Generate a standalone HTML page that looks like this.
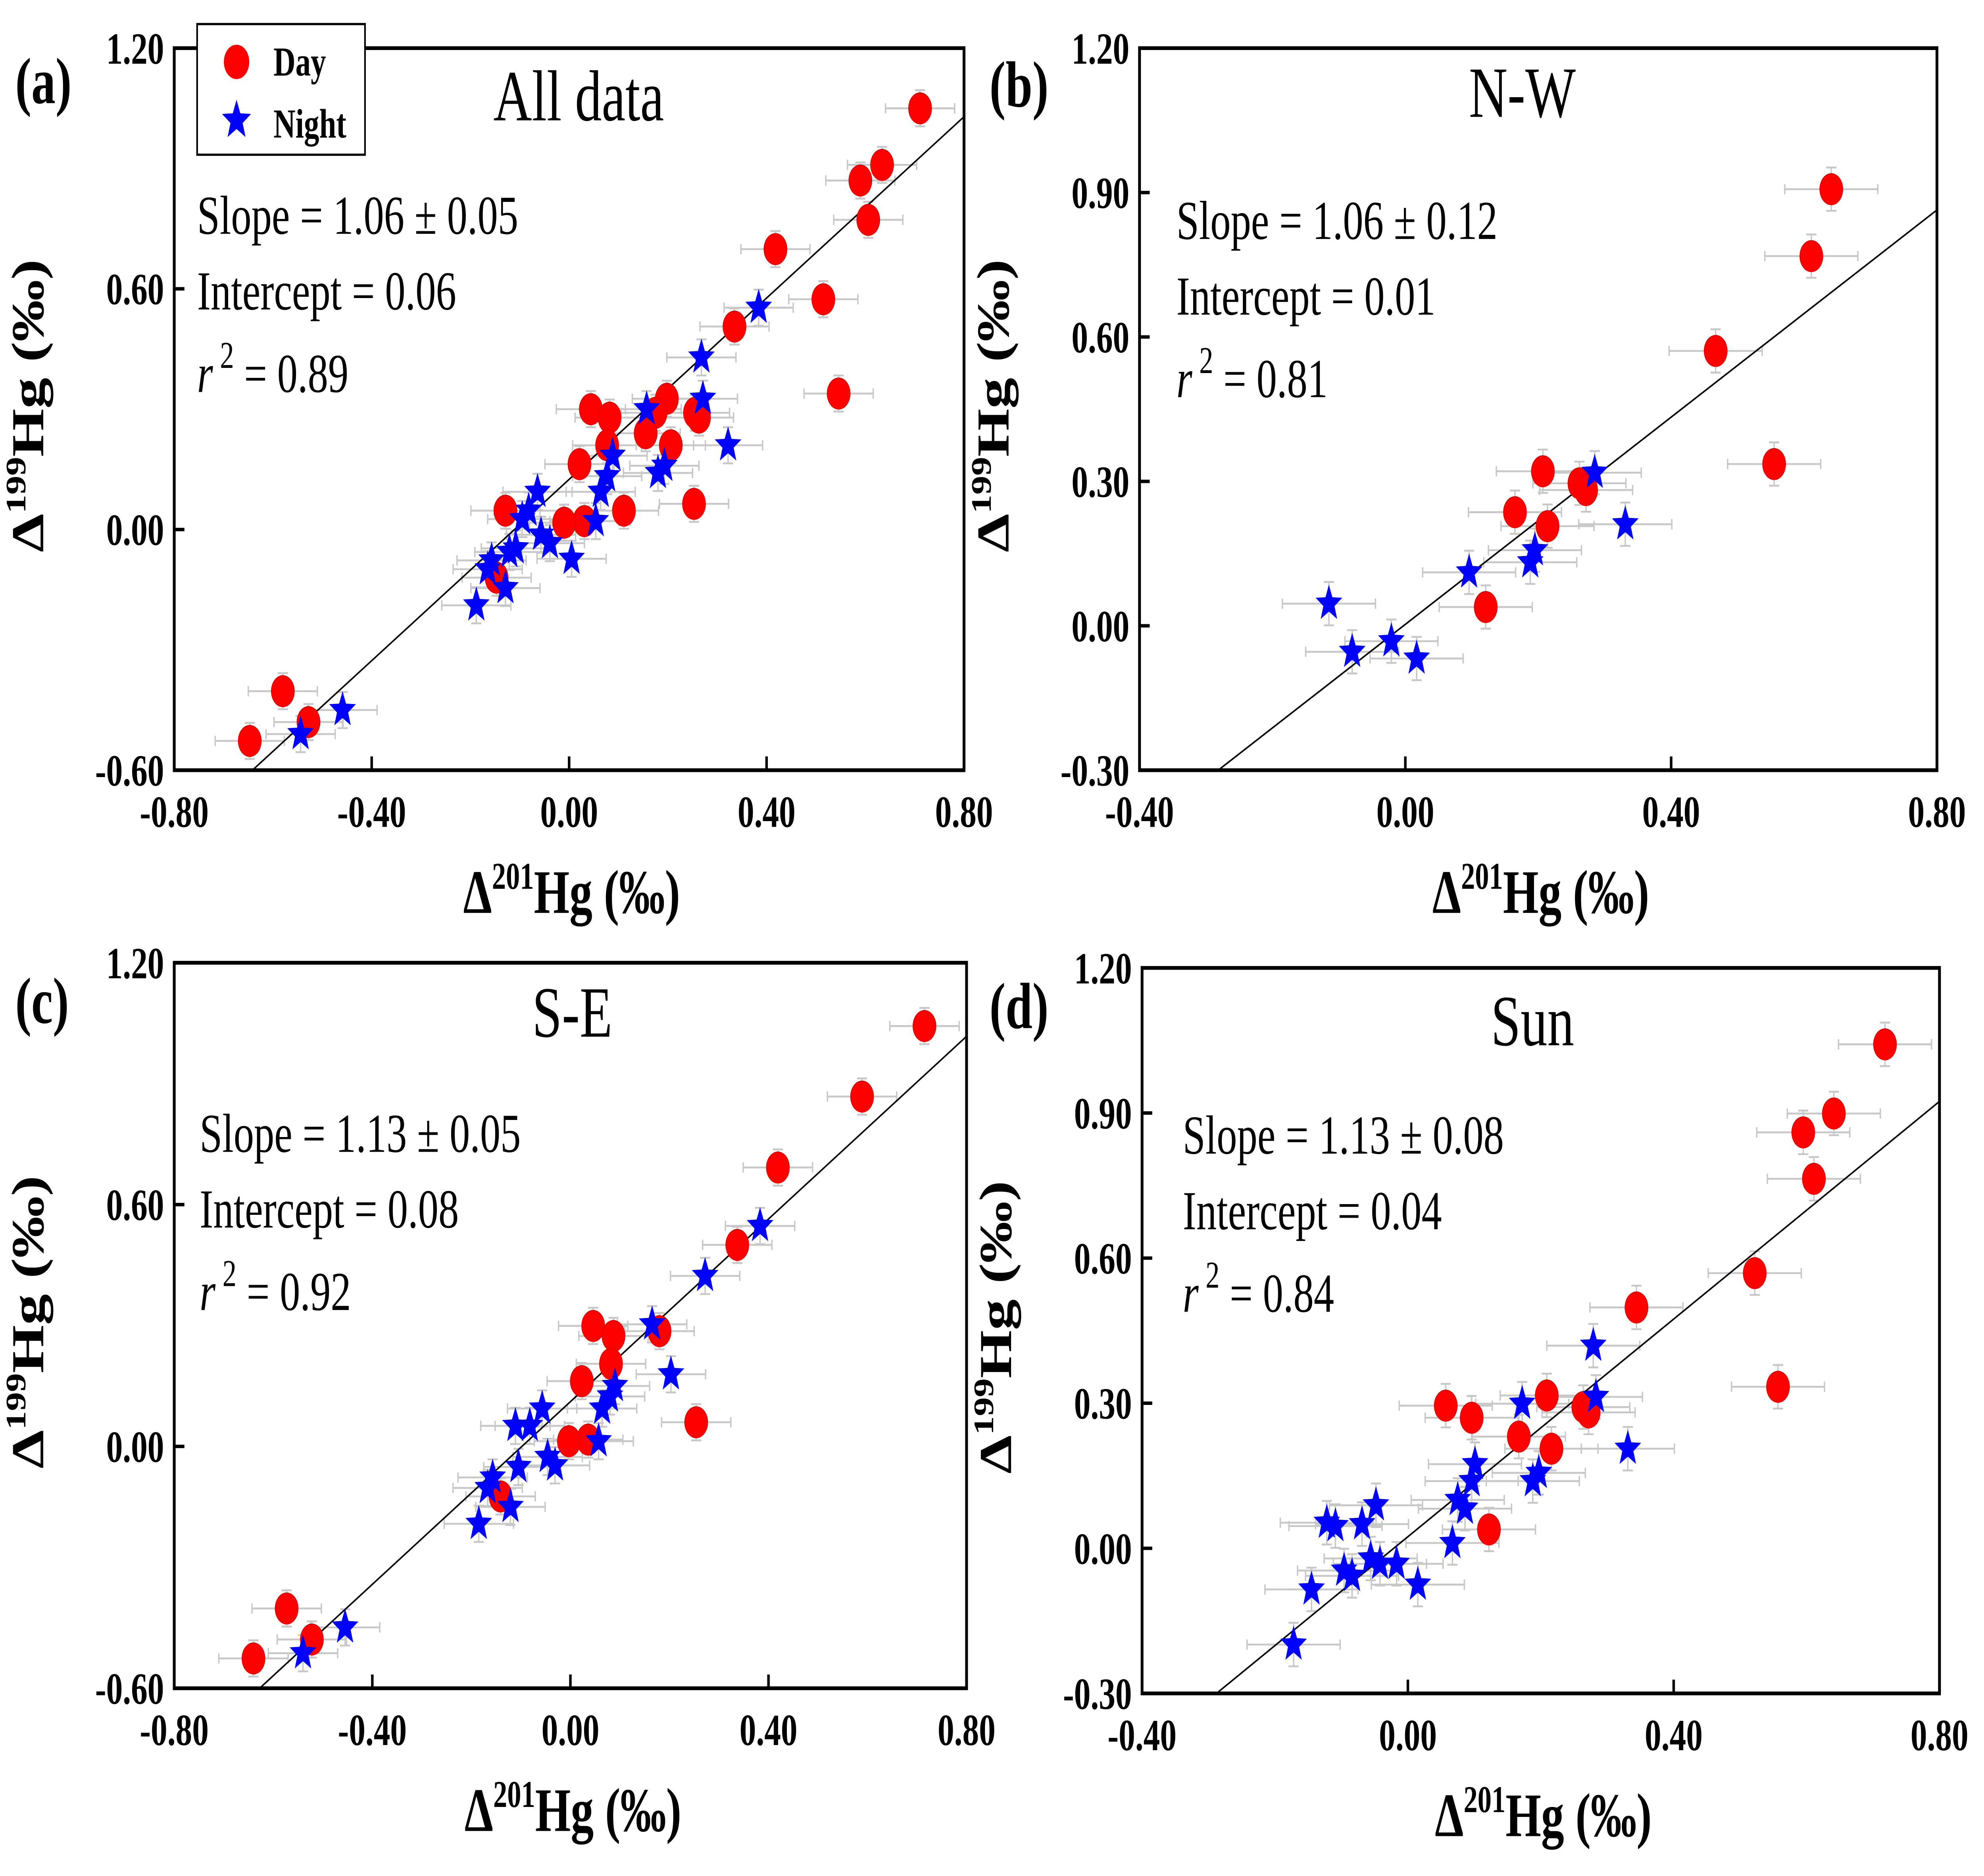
<!DOCTYPE html>
<html><head><meta charset="utf-8">
<style>
html,body{margin:0;padding:0;background:#fff;width:100%;height:100%;overflow:hidden;}
svg{display:block;width:100vw;height:100vh;}
text{font-family:"Liberation Serif","DejaVu Serif",serif;}
</style></head>
<body>
<svg id="root" xmlns="http://www.w3.org/2000/svg" viewBox="0 0 1560 1091.2" preserveAspectRatio="none">
<rect x="0" y="0" width="1560" height="1092" fill="#fff"/>
<g id="fig"></g>
</svg>
<script>
// ---------- Panel (a) All data ----------
const aDayX = [0.711,0.634,0.590,0.606,0.418,0.515,0.335,0.546,0.044,0.082,0.198,0.175,0.155,0.255,0.263,0.077,0.206,0.021,0.253,0.111,0.031,-0.010,-0.129,-0.147,-0.580,-0.528,-0.647];
const aDayY = [1.050,0.909,0.870,0.772,0.699,0.574,0.506,0.339,0.300,0.279,0.326,0.291,0.240,0.291,0.279,0.210,0.210,0.163,0.064,0.047,0.021,0.017,0.047,-0.120,-0.403,-0.480,-0.527];
const aNightX = [0.384,0.268,0.271,0.157,0.322,0.180,0.193,0.088,0.077,0.064,0.054,-0.064,-0.082,-0.095,-0.057,-0.039,0.005,-0.108,-0.121,-0.157,-0.165,-0.129,-0.188,-0.459,-0.544];
const aNightY = [0.553,0.429,0.326,0.300,0.210,0.141,0.159,0.184,0.133,0.094,0.021,0.094,0.047,0.026,-0.013,-0.034,-0.073,-0.047,-0.056,-0.077,-0.099,-0.146,-0.189,-0.450,-0.510];
const aFit = [1.13, 0.125];
// ---------- Panel (b) N-W ----------
const bDayX = [0.641,0.611,0.467,0.555,0.207,0.165,0.214,0.262,0.272,0.121];
const bDayY = [0.907,0.768,0.571,0.336,0.321,0.236,0.207,0.296,0.282,0.039];
const bNightX = [0.285,0.331,0.195,0.188,0.096,-0.115,-0.080,-0.021,0.017];
const bNightY = [0.318,0.211,0.157,0.132,0.111,0.046,-0.054,-0.032,-0.068];
const bFit = [1.076, 0.003];
// ---------- Panel (c) S-E ----------
const cDayX = [0.715,0.589,0.419,0.337,0.046,0.087,0.180,0.082,0.023,0.254,0.036,-0.003,-0.141,-0.573,-0.522,-0.640];
const cDayY = [1.043,0.868,0.692,0.500,0.299,0.274,0.286,0.205,0.162,0.060,0.017,0.013,-0.124,-0.402,-0.479,-0.526];
const cNightX = [0.383,0.272,0.165,0.203,0.090,0.080,0.064,0.057,-0.057,-0.082,-0.111,-0.046,-0.031,-0.105,-0.157,-0.167,-0.121,-0.185,-0.455,-0.540];
const cNightY = [0.547,0.423,0.303,0.179,0.150,0.124,0.094,0.013,0.094,0.051,0.051,-0.026,-0.047,-0.051,-0.077,-0.103,-0.150,-0.192,-0.449,-0.513];
const cFit = [1.133, 0.111];
// ---------- Panel (d) Sun ----------
const dDayX = [0.718,0.641,0.595,0.611,0.522,0.557,0.344,0.057,0.096,0.167,0.209,0.264,0.272,0.216,0.122];
const dDayY = [1.042,0.899,0.860,0.764,0.569,0.334,0.498,0.295,0.270,0.231,0.316,0.292,0.281,0.206,0.039];
const dNightX = [0.279,0.283,0.172,0.331,0.101,0.096,0.188,0.197,0.075,0.086,0.067,-0.048,-0.069,-0.109,-0.122,-0.056,-0.042,-0.017,-0.096,-0.084,0.015,-0.145,-0.172];
const dNightY = [0.419,0.313,0.299,0.206,0.174,0.139,0.139,0.156,0.100,0.082,0.011,0.089,0.050,0.046,0.053,-0.021,-0.032,-0.032,-0.046,-0.057,-0.075,-0.085,-0.199];
const dFit = [1.125, 0.024];
// tick labels
const xTicksA = ["-0.80","-0.40","0.00","0.40","0.80"];
const xTicksB = ["-0.40","0.00","0.40","0.80"];
const yTicksA = ["-0.60","0.00","0.60","1.20"];
const yTicksB = ["-0.30","0.00","0.30","0.60","0.90","1.20"];
const xErr = 0.07, yErr = 0.045;

const NS="http://www.w3.org/2000/svg";
const svg=document.getElementById('fig');
function mk(tag,attrs,parent){const e=document.createElementNS(NS,tag);for(const k in attrs)e.setAttribute(k,attrs[k]);(parent||svg).appendChild(e);return e;}
function txt(s,attrs,parent){const e=mk('text',attrs,parent);e.textContent=s;return e;}

function panel(cfg){
  const g=mk('g',{});
  
  
  const L=cfg.box[0],R=cfg.box[1],T=cfg.box[2],B=cfg.box[3];
  const xs=v=>L+(v-cfg.xr[0])/(cfg.xr[1]-cfg.xr[0])*(R-L);
  const ys=v=>B-(v-cfg.yr[0])/(cfg.yr[1]-cfg.yr[0])*(B-T);
  const cp=mk('clipPath',{id:'clip'+cfg.id},g);
  mk('rect',{x:L,y:T,width:R-L,height:B-T},cp);
  const pg=mk('g',{'clip-path':'url(#clip'+cfg.id+')'},g);
  const eg=mk('g',{stroke:'#c8c8c8','stroke-width':1.1,fill:'none'},pg);
  
  
  const allX=cfg.dx.concat(cfg.nx), allY=cfg.dy.concat(cfg.ny);
  for(let i=0;i<allX.length;i++){
    const cx=xs(allX[i]),cy=ys(allY[i]);
    const x1=xs(allX[i]-xErr),x2=xs(allX[i]+xErr),y1=ys(allY[i]+yErr),y2=ys(allY[i]-yErr);
    mk('path',{d:`M${x1},${cy}H${x2}M${cx},${y1}V${y2}M${x1},${cy-3}v6M${x2},${cy-3}v6M${cx-4},${y1}h8M${cx-4},${y2}h8`},eg);
  }
  const x0=cfg.xr[0],x1=cfg.xr[1];
  const ln=mk('line',{x1:xs(x0),y1:ys(cfg.fit[0]*x0+cfg.fit[1]),x2:xs(x1),y2:ys(cfg.fit[0]*x1+cfg.fit[1]),stroke:'#000','stroke-width':1},pg);
  
  
  for(let i=0;i<cfg.dx.length;i++){
    const c=mk('circle',{cx:xs(cfg.dx[i]),cy:ys(cfg.dy[i]),r:9,fill:'#ff0000',stroke:'#e00000','stroke-width':0.6},pg);
    
    
  }
  for(let i=0;i<cfg.nx.length;i++){
    const s=star(xs(cfg.nx[i]),ys(cfg.ny[i]),11,pg);
    
    
  }
  const fr=mk('rect',{x:L,y:T,width:R-L,height:B-T,fill:'none',stroke:'#000','stroke-width':2.2},g);
  
  
  cfg.xt.forEach(t=>{const v=parseFloat(t),px=xs(v);
    mk('line',{x1:px,y1:B,x2:px,y2:B-8,stroke:'#000','stroke-width':2},g);
    const e=txt(t,{x:px,y:B+33,'text-anchor':'middle','font-size':26,'font-weight':'bold'},g);
    
    });
  cfg.yt.forEach(t=>{const v=parseFloat(t),py=ys(v);
    mk('line',{x1:L,y1:py,x2:L+8,y2:py,stroke:'#000','stroke-width':2},g);
    const e=txt(t,{x:L-8,y:py+9,'text-anchor':'end','font-size':26,'font-weight':'bold'},g);
    
    });
  const xt=txt('',{x:(L+R)/2+2,y:B+83,'text-anchor':'middle','font-size':36,'font-weight':'bold'},g);
  xt.innerHTML='Δ<tspan font-size="22" dy="-14">201</tspan><tspan dy="14">Hg (‰)</tspan>';
  
  
  const yx=L-103, yy=(T+B)/2-2;
  const yt=txt('',{x:yx,y:yy,'text-anchor':'middle','font-size':36,'font-weight':'bold',transform:`rotate(-90 ${yx} ${yy})`},g);
  yt.innerHTML='Δ<tspan font-size="22" dy="-14">199</tspan><tspan dy="14">Hg (‰)</tspan>';
  
  
  const pl=txt('('+cfg.id+')',{x:cfg.lab[0],y:cfg.lab[1],'font-size':38,'font-weight':'bold'},g);
  
  
  const ti=txt(cfg.title,{x:cfg.tpos[0],y:cfg.tpos[1],'text-anchor':'middle','font-size':42},g);
  
  
  const sx=cfg.spos[0],sy=cfg.spos[1];
  const s1=txt(cfg.stats[0],{x:sx,y:sy,'font-size':32},g);
  
  
  const s2=txt(cfg.stats[1],{x:sx,y:sy+44,'font-size':32},g);
  
  
  const s3=txt('',{x:sx,y:sy+92,'font-size':32},g);
  s3.innerHTML='<tspan font-style="italic">r</tspan><tspan font-size="22" dy="-14"> 2</tspan><tspan dy="14"> = '+cfg.stats[2]+'</tspan>';
  
  
}
function star(cx,cy,r,parent){
  let d='';
  for(let k=0;k<10;k++){const a=-Math.PI/2+k*Math.PI/5;const rr=k%2?r*0.42:r;
    d+=(k?'L':'M')+(cx+rr*Math.cos(a)).toFixed(2)+','+(cy+rr*Math.sin(a)).toFixed(2);}
  return mk('path',{d:d+'Z',fill:'#0000ff'},parent);
}

panel({id:'a',box:[137,758,28,448],xr:[-0.8,0.8],yr:[-0.6,1.2],dx:aDayX,dy:aDayY,nx:aNightX,ny:aNightY,fit:aFit,xt:xTicksA,yt:yTicksA,lab:[12,60],title:'All data',tpos:[455,70],spos:[155,136],stats:['Slope = 1.06 ± 0.05','Intercept = 0.06','0.89']});
panel({id:'b',box:[896,1523,28,448],xr:[-0.4,0.8],yr:[-0.3,1.2],dx:bDayX,dy:bDayY,nx:bNightX,ny:bNightY,fit:bFit,xt:xTicksB,yt:yTicksB,lab:[778,62],title:'N-W',tpos:[1197,68],spos:[925,139],stats:['Slope = 1.06 ± 0.12','Intercept = 0.01','0.81']});
panel({id:'c',box:[137,760,560,982],xr:[-0.8,0.8],yr:[-0.6,1.2],dx:cDayX,dy:cDayY,nx:cNightX,ny:cNightY,fit:cFit,xt:xTicksA,yt:yTicksA,lab:[12,595],title:'S-E',tpos:[450,603],spos:[157,670],stats:['Slope = 1.13 ± 0.05','Intercept = 0.08','0.92']});
panel({id:'d',box:[898,1525,563,985],xr:[-0.4,0.8],yr:[-0.3,1.2],dx:dDayX,dy:dDayY,nx:dNightX,ny:dNightY,fit:dFit,xt:xTicksB,yt:yTicksB,lab:[778,598],title:'Sun',tpos:[1205,608],spos:[930,671],stats:['Slope = 1.13 ± 0.08','Intercept = 0.04','0.84']});

const lg=mk('g',{});


mk('rect',{x:155,y:14,width:132,height:76,fill:'#fff',stroke:'#000','stroke-width':1.3},lg);
const lc=mk('circle',{cx:186,cy:36,r:10,fill:'#ff0000'},lg);


const ld=txt('Day',{x:215,y:44,'font-size':24,'font-weight':'bold'},lg);


const ls=star(186,70,12,lg);


const ln2=txt('Night',{x:215,y:80,'font-size':24,'font-weight':'bold'},lg);


</script>
</body></html>
